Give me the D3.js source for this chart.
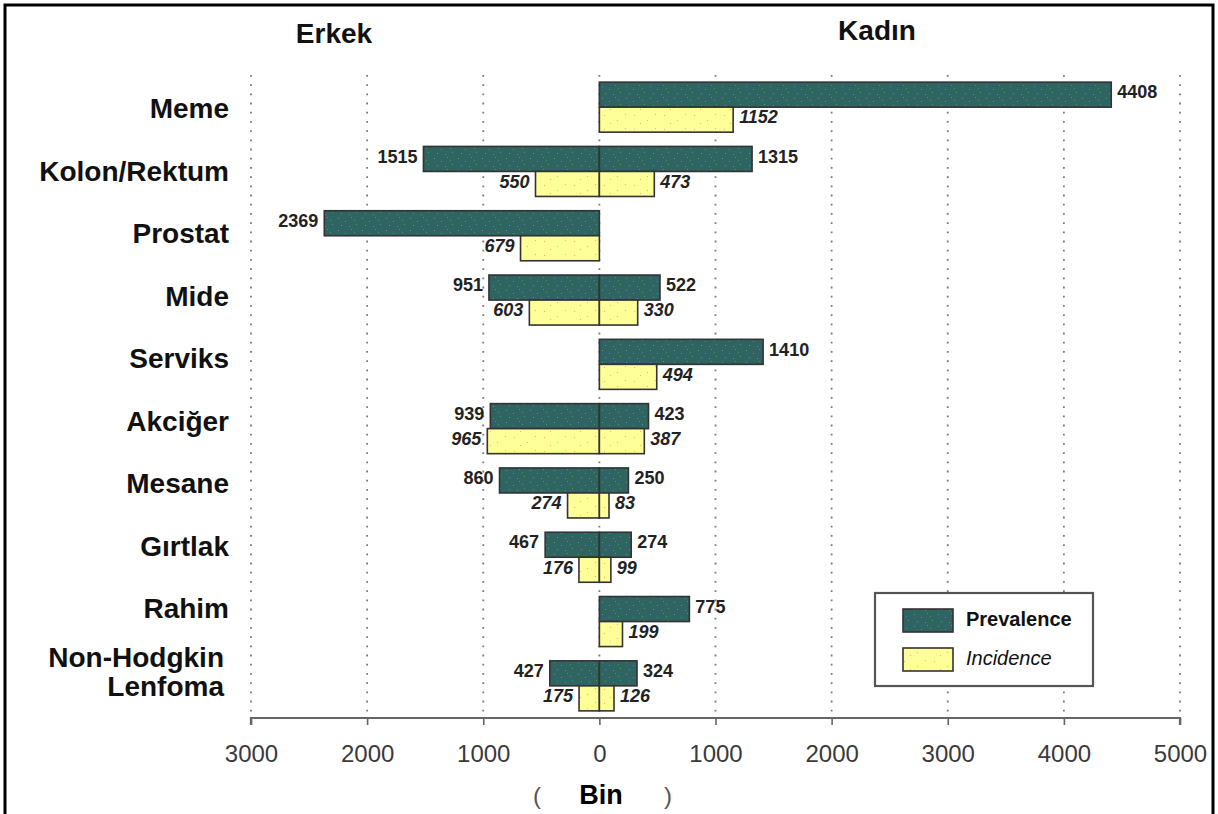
<!DOCTYPE html>
<html>
<head>
<meta charset="utf-8">
<script src="https://cdn.jsdelivr.net/npm/d3@7"></script>
<style>
  html, body { margin: 0; padding: 0; background: #fff; }
  svg { display: block; font-family: "Liberation Sans", Arial, sans-serif; }
</style>
</head>
<body>
<svg id="chart" width="1218" height="814"></svg>
<script>
// Cancer sites (rows, top to bottom)
const categories = ["Meme", "Kolon/Rektum", "Prostat", "Mide", "Serviks",
                    "Akciğer", "Mesane", "Gırtlak", "Rahim", "Non-Hodgkin Lenfoma"];

// Men (drawn to the left), thousands
const malePrevalence = [null, 1515, 2369, 951, null, 939, 860, 467, null, 427];
const maleIncidence  = [null,  550,  679, 603, null, 965, 274, 176, null, 175];

// Women (drawn to the right), thousands
const femalePrevalence = [4408, 1315, null, 522, 1410, 423, 250, 274, 775, 324];
const femaleIncidence  = [1152,  473, null, 330,  494, 387,  83,  99, 199, 126];

// Axis ticks (signed: negative = men)
const tickValues = [-3000, -2000, -1000, 0, 1000, 2000, 3000, 4000, 5000];

const seriesNames = ["Prevalence", "Incidence"];

const svg = d3.select("#chart");

// Outer frame
svg.append("path")
  .attr("d", "M5,814 L5,5 L1213,5 L1213,814")
  .attr("fill", "none").attr("stroke", "#000").attr("stroke-width", 3);

const x = d3.scaleLinear().domain([-3000, 5000]).range([251, 1180]);
const y = d3.scaleBand().domain(categories).range([75, 718])
  .paddingInner(0.222).paddingOuter(0.111);
const sub = d3.scaleBand().domain(seriesNames).range([0, y.bandwidth()]);
// Row titles sit on their own, slightly tighter, vertical spacing
const yLabel = d3.scalePoint().domain(categories).range([108, 671]);

// Textures for the bars
const defs = svg.append("defs");
const pPat = defs.append("pattern").attr("id", "prevTex")
  .attr("patternUnits", "userSpaceOnUse").attr("width", 24).attr("height", 12);
pPat.append("rect").attr("width", 24).attr("height", 12).attr("fill", "#2f6462");
[[2,2],[9,5],[15,1],[20,8],[5,9],[13,10],[18,4]].forEach(([a, b]) =>
  pPat.append("rect").attr("x", a).attr("y", b).attr("width", 1).attr("height", 1).attr("fill", "#3fa060"));
const iPat = defs.append("pattern").attr("id", "incTex")
  .attr("patternUnits", "userSpaceOnUse").attr("width", 30).attr("height", 14);
iPat.append("rect").attr("width", 30).attr("height", 14).attr("fill", "#ffff99");
[[4,3],[17,8],[25,2],[10,11]].forEach(([a, b]) =>
  iPat.append("rect").attr("x", a).attr("y", b).attr("width", 1).attr("height", 1).attr("fill", "#f0b070"));

// Dotted vertical grid
svg.append("g").selectAll("line").data(tickValues).join("line")
  .attr("x1", d => x(d)).attr("x2", d => x(d))
  .attr("y1", 75).attr("y2", 718)
  .attr("stroke", "#7a7a7a").attr("stroke-width", 1.8)
  .attr("stroke-dasharray", "1.8,7.4");

// Bars
const rows = categories.map((c, i) => ({
  c,
  mp: malePrevalence[i], mi: maleIncidence[i],
  fp: femalePrevalence[i], fi: femaleIncidence[i]
}));

const bars = [];
rows.forEach(r => {
  if (r.mp != null) bars.push({ c: r.c, s: "Prevalence", v: -r.mp });
  if (r.fp != null) bars.push({ c: r.c, s: "Prevalence", v: r.fp });
  if (r.mi != null) bars.push({ c: r.c, s: "Incidence", v: -r.mi });
  if (r.fi != null) bars.push({ c: r.c, s: "Incidence", v: r.fi });
});

const gBars = svg.append("g");
gBars.selectAll("rect").data(bars).join("rect")
  .attr("x", d => Math.min(x(0), x(d.v)))
  .attr("y", d => y(d.c) + sub(d.s))
  .attr("width", d => Math.abs(x(d.v) - x(0)))
  .attr("height", sub.bandwidth())
  .attr("fill", d => d.s === "Prevalence" ? "url(#prevTex)" : "url(#incTex)")
  .attr("stroke", "#333").attr("stroke-width", 1.6);

// Value labels
svg.append("g").selectAll("text").data(bars).join("text")
  .attr("x", d => d.v < 0 ? x(d.v) - 6 : x(d.v) + 6)
  .attr("y", d => y(d.c) + sub(d.s) + sub.bandwidth() / 2 - 1)
  .attr("text-anchor", d => d.v < 0 ? "end" : "start")
  .attr("dominant-baseline", "middle")
  .attr("font-size", 18).attr("font-weight", "bold")
  .attr("font-style", d => d.s === "Incidence" ? "italic" : "normal")
  .attr("fill", "#222")
  .text(d => Math.abs(d.v));

// Category labels
const gCat = svg.append("g");
categories.forEach(c => {
  const words = c === "Non-Hodgkin Lenfoma" ? ["Non-Hodgkin", "Lenfoma"] : [c];
  const cy = yLabel(c);
  const t = gCat.append("text")
    .attr("text-anchor", "end")
    .attr("font-size", 28).attr("font-weight", "bold").attr("fill", "#111");
  words.forEach((w, k) => {
    t.append("tspan").attr("x", words.length > 1 ? 224 : 229)
      .attr("y", cy + 10 + (k - (words.length - 1) / 2) * 29)
      .text(w);
  });
});

// Bottom axis
const axis = d3.axisBottom(x).tickValues(tickValues)
  .tickFormat(d => Math.abs(d)).tickSize(7).tickPadding(20);
const gAxis = svg.append("g").attr("transform", "translate(0,718)").call(axis);
gAxis.select(".domain").attr("stroke", "#666").attr("stroke-width", 2.2)
  .attr("d", `M${x(-3000)},7V0H${x(5000)}V7`);
gAxis.selectAll(".tick line").attr("stroke", "#666").attr("stroke-width", 1.6);
gAxis.selectAll(".tick text").attr("font-size", 24).attr("fill", "#3a3a3a")
  .attr("font-family", "'Liberation Sans', Arial, sans-serif");

// Axis unit
const unit = svg.append("g").attr("font-size", 24);
unit.append("text").attr("x", 537).attr("y", 804).attr("text-anchor", "middle").attr("fill", "#555").text("(");
unit.append("text").attr("x", 601).attr("y", 804).attr("text-anchor", "middle")
  .attr("font-weight", "bold").attr("font-size", 27).attr("fill", "#000").text("Bin");
unit.append("text").attr("x", 668).attr("y", 804).attr("text-anchor", "middle").attr("fill", "#555").text(")");

// Side headings
svg.append("text").attr("x", 334).attr("y", 43).attr("text-anchor", "middle")
  .attr("font-size", 28).attr("font-weight", "bold").attr("fill", "#111").text("Erkek");
svg.append("text").attr("x", 877).attr("y", 40).attr("text-anchor", "middle")
  .attr("font-size", 28).attr("font-weight", "bold").attr("fill", "#111").text("Kadın");

// Legend
const lg = svg.append("g");
lg.append("rect").attr("x", 875).attr("y", 593).attr("width", 218).attr("height", 93)
  .attr("fill", "#fff").attr("stroke", "#555").attr("stroke-width", 2.2);
seriesNames.forEach((s, i) => {
  const yy = 609 + i * 39;
  lg.append("rect").attr("x", 903).attr("y", yy).attr("width", 50).attr("height", 23)
    .attr("fill", s === "Prevalence" ? "url(#prevTex)" : "url(#incTex)")
    .attr("stroke", "#333").attr("stroke-width", 1.6);
  lg.append("text").attr("x", 966).attr("y", yy + 12).attr("dominant-baseline", "middle")
    .attr("font-size", 20)
    .attr("font-weight", s === "Prevalence" ? "bold" : "normal")
    .attr("font-style", s === "Incidence" ? "italic" : "normal")
    .attr("fill", "#111").text(s);
});
</script>
</body>
</html>
